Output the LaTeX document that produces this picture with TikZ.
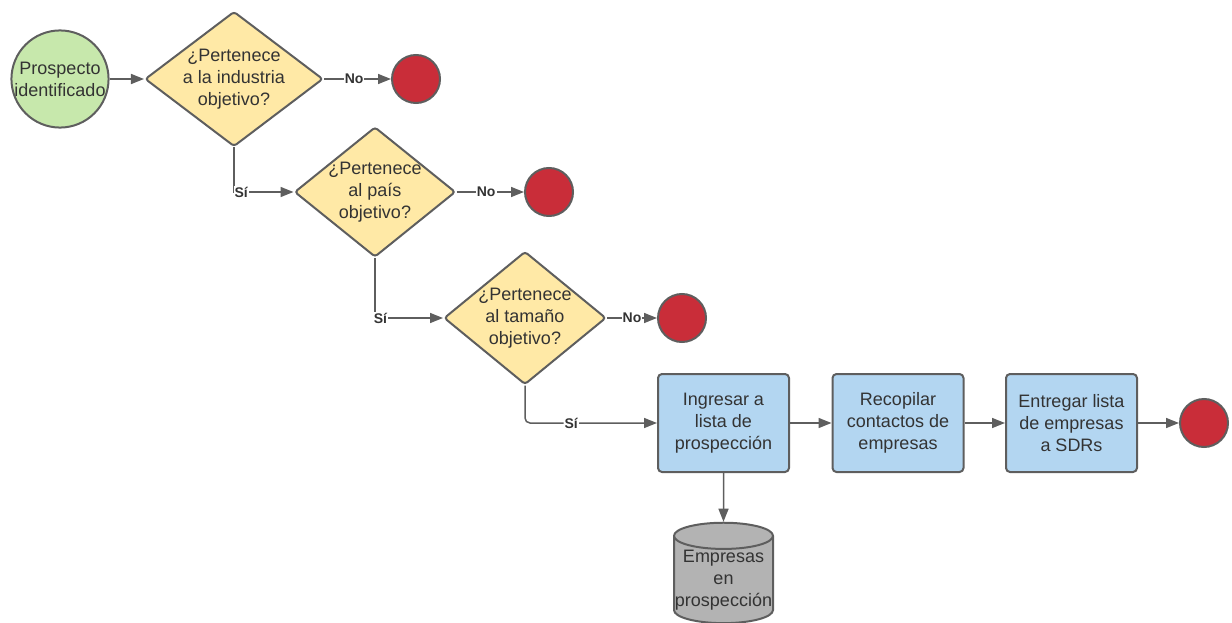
\documentclass[tikz,border=0pt]{standalone}
\usepackage{fontspec}
\setmainfont{Liberation Sans}
\usetikzlibrary{arrows.meta,shapes.geometric}

\definecolor{lineclr}{HTML}{5E5E5E}
\definecolor{txtclr}{HTML}{333333}
\definecolor{startclr}{HTML}{C7E8AC}
\definecolor{askclr}{HTML}{FFE9A6}
\definecolor{taskclr}{HTML}{B3D6F1}
\definecolor{stopclr}{HTML}{C92D39}
\definecolor{dbclr}{HTML}{B3B3B3}

\begin{document}
\begin{tikzpicture}[x=1pt, y=-1pt,
	every node/.style={font=\fontsize{18}{22}\selectfont, text=txtclr},
	>={Triangle[length=13pt, width=10pt]},
	startnode/.style={circle, draw=lineclr, fill=startclr, line width=2pt, minimum size=97pt, inner sep=0pt, align=center},
	stopnode/.style={circle, draw=lineclr, fill=stopclr, line width=2pt, minimum size=48pt, inner sep=0pt},
	decision/.style={diamond, draw=lineclr, fill=askclr, line width=2pt, inner sep=0pt, rounded corners=3pt},
	dtext/.style={align=center, inner sep=0pt},
	task/.style={rectangle, draw=lineclr, fill=taskclr, line width=2pt, rounded corners=4pt, minimum width=131pt, minimum height=98pt, align=center, inner sep=0pt},
	store/.style={cylinder, shape border rotate=90, aspect=0.27, draw=lineclr, fill=dbclr, line width=2pt, minimum width=99pt, minimum height=88pt, align=center, inner sep=0pt},
	flow/.style={->, draw=lineclr, line width=1.5pt},
	answer/.style={font=\bfseries\fontsize{14}{16}\selectfont, fill=white, inner sep=1pt}]
	\useasboundingbox (0,0) rectangle (1232,623);
	% start and decisions
	\node[startnode] (start) at (60,79) {Prospecto\\identificado};
	\node[decision, minimum width=178pt, minimum height=135pt, label={[dtext]center:{¿Pertenece\\a la industria\\objetivo?}}] (ask1) at (234,79) {};
	\node[stopnode] (stop1) at (416,79) {};
	\node[decision, minimum width=161pt, minimum height=130pt, label={[dtext]center:{¿Pertenece\\al país\\objetivo?}}] (ask2) at (375,192) {};
	\node[stopnode] (stop2) at (549,192) {};
	\node[decision, minimum width=162pt, minimum height=133pt, label={[dtext]center:{¿Pertenece\\al tamaño\\objetivo?}}] (ask3) at (525,318) {};
	\node[stopnode] (stop3) at (682,318) {};
	% tasks
	\node[task] (list) at (723.5,423) {Ingresar a\\lista de\\prospección};
	\node[task] (collect) at (898,423) {Recopilar\\contactos de\\empresas};
	\node[task] (deliver) at (1071.5,423) {Entregar lista\\de empresas\\a SDRs};
	\node[stopnode] (stop4) at (1204,423) {};
	\node[store] (db) at (723.5,580) {Empresas\\en\\prospección};
	% connectors
	\draw[flow] (start) -- (ask1);
	\draw[flow] (ask1.east) -- node[answer, pos=0.45] {No} (stop1);
	\draw[flow] (ask1.south) |- node[answer, pos=0.56] {Sí} (ask2.west);
	\draw[flow] (ask2.east) -- node[answer, pos=0.44] {No} (stop2);
	\draw[flow] (ask2.south) |- node[answer, pos=0.54] {Sí} (ask3.west);
	\draw[flow] (ask3.east) -- node[answer, pos=0.5] {No} (stop3);
	\draw[flow, rounded corners=5pt] (ask3.south) |- node[answer, pos=0.675] {Sí} (list.west);
	\draw[flow] (list) -- (collect);
	\draw[flow] (collect) -- (deliver);
	\draw[flow] (deliver) -- (stop4);
	\draw[flow] (list) -- (db);
\end{tikzpicture}
\end{document}
